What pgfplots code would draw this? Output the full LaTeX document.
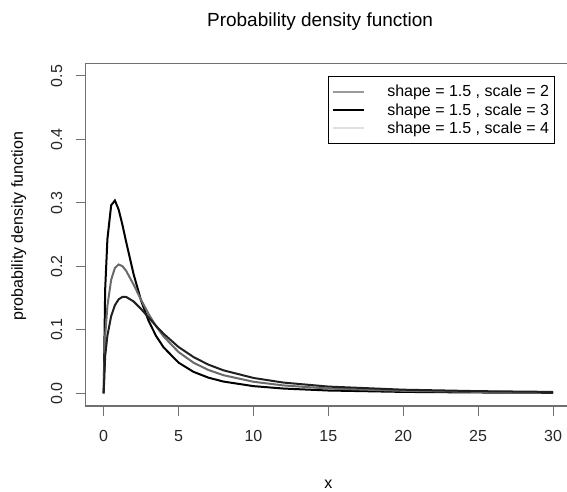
\documentclass[border=0pt]{standalone}
\usepackage{fontspec}
\setmainfont{Liberation Sans}
\usepackage{pgfplots}
\pgfplotsset{compat=1.18}

\definecolor{boxgray}{HTML}{707070}
\definecolor{curvegray}{HTML}{6A6A6A}
\definecolor{curvedark}{HTML}{202020}
\definecolor{leggray}{HTML}{9A9A9A}
\definecolor{legpale}{HTML}{E0E0E0}

\begin{document}
\begin{tikzpicture}
\begin{axis}[
    scale only axis,
    width=485.3pt, height=342.7pt,
    xmin=-1.2, xmax=31.2, ymin=-0.02, ymax=0.52,
    xtick={0,5,10,15,20,25,30},
    ytick={0,0.1,0.2,0.3,0.4,0.5},
    tick pos=left,
    tick align=outside,
    major tick length=10pt,
    tick style={boxgray, line width=1pt},
    axis line style={boxgray, line width=1.2pt},
    /pgf/number format/assume math mode=true,
    ticklabel style={font=\fontsize{16}{18}\selectfont, text=black!85},
    yticklabel style={rotate=90, anchor=center, yshift=19pt,
        /pgf/number format/fixed, /pgf/number format/fixed zerofill,
        /pgf/number format/precision=1},
    xticklabel style={anchor=center, yshift=-20pt},
    title={Probability density function},
    title style={font=\fontsize{19}{22}\selectfont, at={(rel axis cs:0.483,1)}, anchor=center, yshift=36pt},
    xlabel={x},
    xlabel style={font=\fontsize{16}{18}\selectfont, at={(rel axis cs:0.5,0)}, anchor=center, yshift=-78pt},
    ylabel={probability density function},
    every axis y label/.style={font=\fontsize{16}{18}\selectfont, at={(rel axis cs:0,0.525)},
        rotate=90, anchor=center, yshift=67pt},
    legend style={at={(axis cs:15,0.5)}, anchor=north west, draw=black, line width=0.8pt,
        font=\fontsize{16}{16}\selectfont, inner xsep=3pt, inner ysep=7pt, row sep=1pt,
        cells={anchor=west}},
    legend image code/.code={\draw[#1] (11pt,0pt) -- (42pt,0pt); \path (63pt,0pt);},
    legend cell align=left,
]
\coordinate (sw) at (rel axis cs:0,0);

% shape = 1.5, scale = 2
\addplot[black, line width=2pt, forget plot] coordinates {
(0,0) (0.1,0.1640) (0.25,0.2432) (0.5,0.2963) (0.75,0.3038) (1,0.2895)
(1.25,0.2656) (1.5,0.2387) (2,0.1875) (2.5,0.1459) (3,0.1141) (3.5,0.0903)
(4,0.0724) (5,0.0483) (6,0.0338) (7,0.0246) (8,0.0185) (10,0.0113)
(12,0.0075) (15,0.0044) (20,0.0022) (25,0.0013) (30,0.0008)};

% shape = 1.5, scale = 3
\addplot[curvegray, line width=2pt, forget plot] coordinates {
(0,0) (0.1,0.0902) (0.25,0.1376) (0.5,0.1789) (0.75,0.1975) (1,0.2030)
(1.25,0.2004) (1.5,0.1930) (2,0.1712) (2.5,0.1472) (3,0.1250) (3.5,0.1057)
(4,0.0895) (5,0.0650) (6,0.0482) (7,0.0367) (8,0.0285) (10,0.0182)
(12,0.0124) (15,0.0075) (20,0.0039) (25,0.0023) (30,0.0015)};

% shape = 1.5, scale = 4
\addplot[curvedark, line width=2pt, forget plot] coordinates {
(0,0) (0.1,0.0588) (0.25,0.0909) (0.5,0.1216) (0.75,0.1389) (1,0.1481)
(1.25,0.1519) (1.5,0.1519) (2,0.1447) (2.5,0.1328) (3,0.1194) (3.5,0.1061)
(4,0.0938) (5,0.0729) (6,0.0571) (7,0.0451) (8,0.0362) (10,0.0242)
(12,0.0169) (15,0.0106) (20,0.0057) (25,0.0034) (30,0.0022)};

\addlegendimage{leggray, line width=1.5pt}
\addlegendentry{shape = 1.5 , scale = 2}
\addlegendimage{black, line width=1.5pt}
\addlegendentry{shape = 1.5 , scale = 3}
\addlegendimage{legpale, line width=1.5pt}
\addlegendentry{shape = 1.5 , scale = 4}
\end{axis}
\pgfresetboundingbox
\path[use as bounding box] ([shift={(-85.7pt,-86pt)}]sw) rectangle ([shift={(481.3pt,406pt)}]sw);
\end{tikzpicture}
\end{document}
